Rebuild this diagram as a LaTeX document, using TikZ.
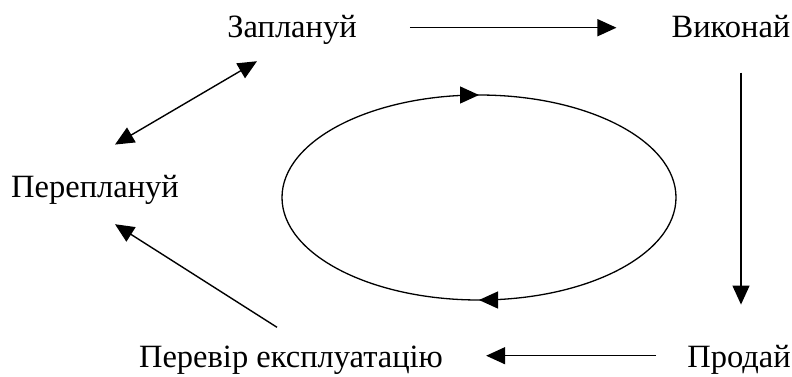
\documentclass[tikz,border=0pt]{standalone}
\usepackage{fontspec}
\setmainfont{Liberation Serif}
\usetikzlibrary{arrows.meta,decorations.markings}

\begin{document}
\begin{tikzpicture}[x=1pt,y=-1pt,
    lbl/.style={inner sep=0pt, anchor=base, font=\fontsize{32.5}{36}\selectfont},
    arr/.style={line width=1.4pt, -{Triangle[length=19pt,width=17pt]}},
    darr/.style={line width=1.4pt, {Triangle[length=19pt,width=17pt]}-{Triangle[length=19pt,width=17pt]}}]
    \useasboundingbox (0,0) rectangle (792,376);

    % Stages
    \node[lbl] (plan) at (292,37) {Заплануй};
    \node[lbl] (do) at (731,37) {Виконай};
    \node[lbl] (replan) at (95,197) {Переплануй};
    \node[lbl] (check) at (291,367) {Перевір експлуатацію};
    \node[lbl] (sell) at (739,367) {Продай};

    % Cycle
    \draw[line width=1.3pt, postaction={decorate},
        decoration={markings,
            mark=at position 0.25 with {\arrowreversed{Triangle[length=19pt,width=17pt]}},
            mark=at position 0.75 with {\arrowreversed{Triangle[length=19pt,width=17pt]}}}]
        (479,197.5) ellipse [x radius=197pt, y radius=102.5pt];

    % Connectors
    \draw[arr] ([xshift=53pt,yshift=7pt]plan.mid east) -- ([xshift=-55pt,yshift=7pt]do.mid west);
    \draw[arr] ([xshift=10pt,yshift=-35pt]do.south) -- ([xshift=2pt,yshift=40pt]sell.north);
    \draw[arr] ([xshift=-31pt,yshift=9pt]sell.mid west) -- ([xshift=43pt,yshift=9pt]check.mid east);
    \draw[arr] ([xshift=-14pt,yshift=18pt]check.north) -- ([xshift=20pt,yshift=-20pt]replan.south);
    \draw[darr] ([xshift=20pt,yshift=30pt]replan.north) -- ([xshift=-35pt,yshift=-17pt]plan.south);
\end{tikzpicture}
\end{document}
